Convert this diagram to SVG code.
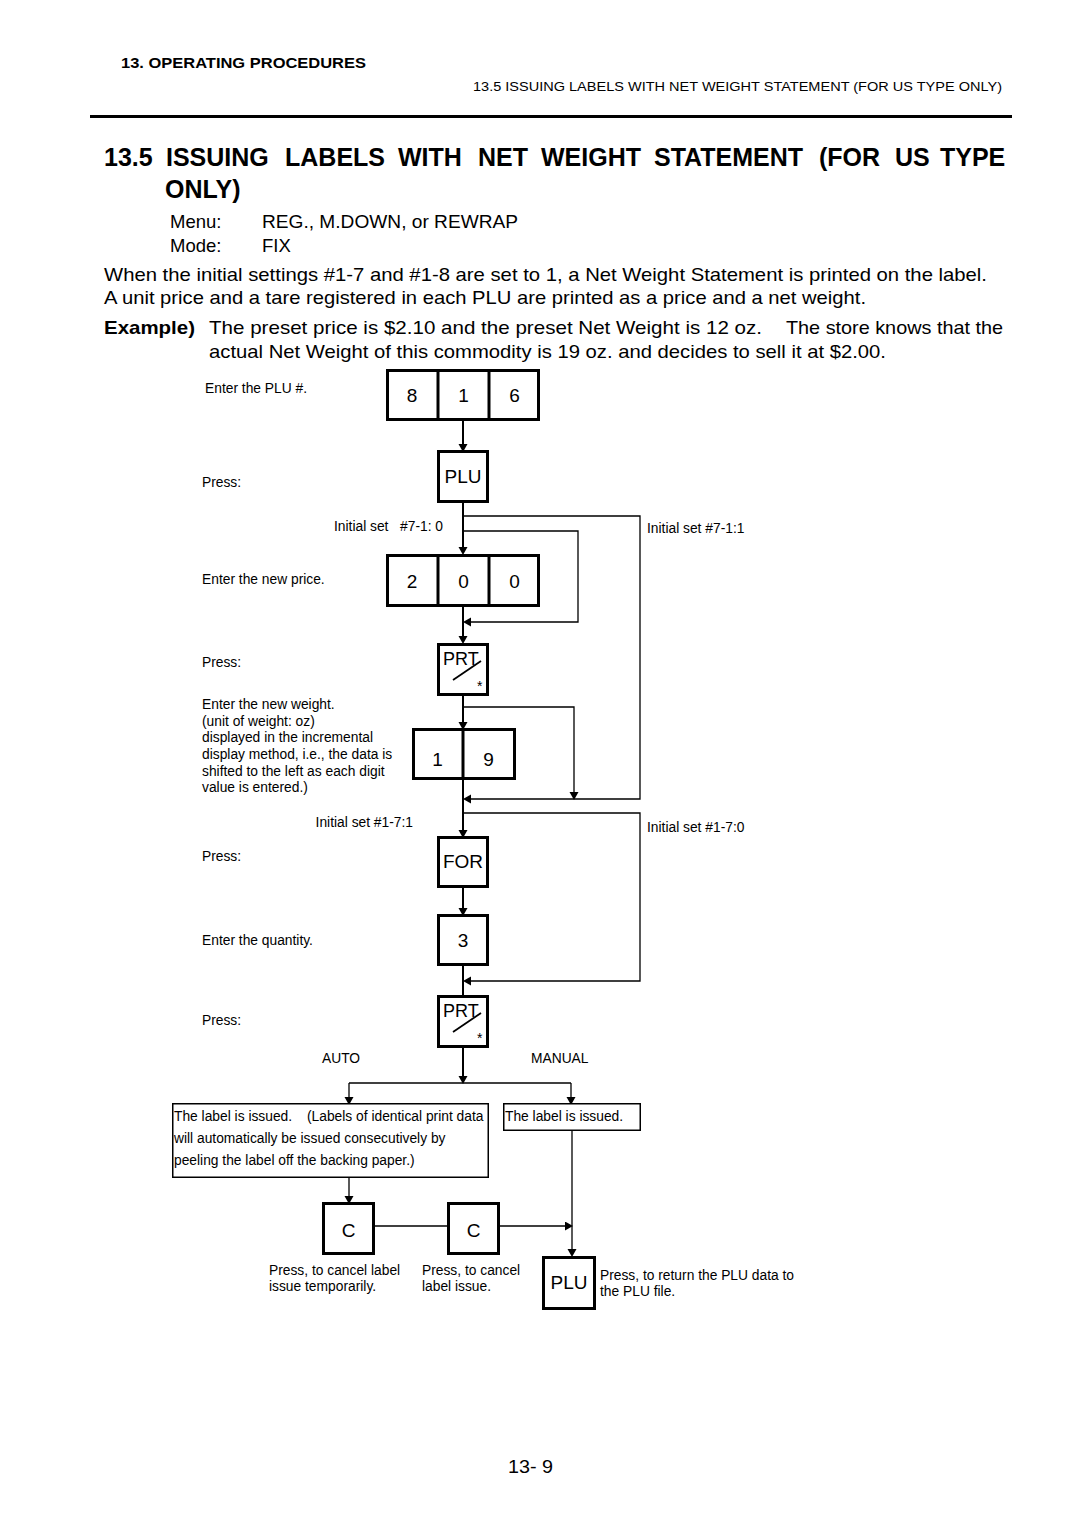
<svg xmlns="http://www.w3.org/2000/svg" width="1080" height="1528" viewBox="0 0 1080 1528">
<style>
text { font-family: "Liberation Sans", Arial, Helvetica, sans-serif; fill: #000; }
.hb { font-weight: bold; }
.body { font-size: 18.5px; }
.sm { font-size: 13.8px; }
.keyt { font-size: 19px; text-anchor: middle; }
.key { fill: #fff; stroke: #000; stroke-width: 3; }
.div { stroke: #000; stroke-width: 3; }
.lbl { fill: #fff; stroke: #000; stroke-width: 1.5; }
.main { fill: none; stroke: #000; stroke-width: 2; }
.br { fill: none; stroke: #000; stroke-width: 1.3; }
.arr { marker-end: url(#ah); }
.slash { stroke: #000; stroke-width: 1.8; }
</style>
<defs>
<marker id="ah" markerUnits="userSpaceOnUse" markerWidth="10" markerHeight="10" refX="3" refY="4.5" orient="auto">
<path d="M0,0 L8,4.5 L0,9 z" fill="#000"/>
</marker>
</defs>
<rect width="1080" height="1528" fill="#fff"/>

<!-- page header -->
<g id="header">
<text x="121" y="68" class="hb" font-size="15.5" textLength="245" lengthAdjust="spacingAndGlyphs">13. OPERATING PROCEDURES</text>
<text x="473" y="91" font-size="12.5" textLength="529" lengthAdjust="spacingAndGlyphs">13.5 ISSUING LABELS WITH NET WEIGHT STATEMENT (FOR US TYPE ONLY)</text>
<line x1="90" y1="116.5" x2="1012" y2="116.5" stroke="#000" stroke-width="3"/>
</g>

<!-- title and intro -->
<g id="title" class="hb" font-size="25">
<text y="166"><tspan x="104">13.5</tspan><tspan x="166">ISSUING</tspan><tspan x="285">LABELS</tspan><tspan x="398">WITH</tspan><tspan x="478">NET</tspan><tspan x="541">WEIGHT</tspan><tspan x="654">STATEMENT</tspan><tspan x="819">(FOR</tspan><tspan x="895">US</tspan><tspan x="940">TYPE</tspan></text>
<text x="165" y="198">ONLY)</text>
</g>
<g id="intro" class="body">
<text x="170" y="228">Menu:</text>
<text x="262" y="228" textLength="256" lengthAdjust="spacingAndGlyphs">REG., M.DOWN, or REWRAP</text>
<text x="170" y="252">Mode:</text>
<text x="262" y="252">FIX</text>
<text x="104" y="281" textLength="883" lengthAdjust="spacingAndGlyphs">When the initial settings #1-7 and #1-8 are set to 1, a Net Weight Statement is printed on the label.</text>
<text x="104" y="304" textLength="762" lengthAdjust="spacingAndGlyphs">A unit price and a tare registered in each PLU are printed as a price and a net weight.</text>
<text x="104" y="334" class="hb" textLength="91" lengthAdjust="spacingAndGlyphs">Example)</text>
<text x="209" y="334" textLength="553" lengthAdjust="spacingAndGlyphs">The preset price is $2.10 and the preset Net Weight is 12 oz.</text>
<text x="786" y="334" textLength="217" lengthAdjust="spacingAndGlyphs">The store knows that the</text>
<text x="209" y="358" textLength="677" lengthAdjust="spacingAndGlyphs">actual Net Weight of this commodity is 19 oz. and decides to sell it at $2.00.</text>
</g>

<!-- step descriptions -->
<g id="steps" class="sm">
<text x="205" y="393">Enter the PLU #.</text>
<text x="202" y="487">Press:</text>
<text x="202" y="584">Enter the new price.</text>
<text x="202" y="667">Press:</text>
<text x="202" y="709">Enter the new weight.</text>
<text x="202" y="726">(unit of weight: oz)</text>
<text x="202" y="742">displayed in the incremental</text>
<text x="202" y="759">display method, i.e., the data is</text>
<text x="202" y="776">shifted to the left as each digit</text>
<text x="202" y="792">value is entered.)</text>
<text x="202" y="861">Press:</text>
<text x="202" y="945">Enter the quantity.</text>
<text x="202" y="1025">Press:</text>
</g>

<!-- connectors -->
<g id="connectors">
<path class="main arr" d="M463,421 V447"/>
<path class="main arr" d="M463,503 V550"/>
<path class="main arr" d="M463,607 V639"/>
<path class="main arr" d="M463,696 V725"/>
<path class="main arr" d="M463,780 V833"/>
<path class="main arr" d="M463,888 V911"/>
<path class="main" d="M463,966 V995"/>
<path class="main arr" d="M463,1048 V1079"/>
<path class="br" d="M349,1083 H571"/>
<path class="br arr" d="M349,1083 V1100"/>
<path class="br arr" d="M571,1083 V1100"/>
<path class="br arr" d="M463,516 H640 V799 H468"/>
<path class="br arr" d="M463,531 H578 V622 H468"/>
<path class="br arr" d="M463,707 H574 V795"/>
<path class="br arr" d="M463,813 H640 V981 H468"/>
<path class="br arr" d="M349,1178 V1199"/>
<path class="br" d="M375,1226 H447"/>
<path class="br arr" d="M500,1226 H568"/>
<path class="br arr" d="M572,1131 V1252"/>
</g>

<!-- branch labels -->
<g id="branch-labels" class="sm">
<text x="334" y="531">Initial set</text>
<text x="443" y="531" text-anchor="end">#7-1: 0</text>
<text x="647" y="533">Initial set #7-1:1</text>
<text x="413" y="827" text-anchor="end">Initial set #1-7:1</text>
<text x="647" y="832">Initial set #1-7:0</text>
<text x="322" y="1063">AUTO</text>
<text x="531" y="1063">MANUAL</text>
</g>

<!-- key nodes -->
<g id="n816">
<rect class="key" x="387.5" y="370.5" width="151" height="49"/>
<line class="div" x1="438" y1="369" x2="438" y2="421"/>
<line class="div" x1="489" y1="369" x2="489" y2="421"/>
<text class="keyt" x="412" y="402">8</text>
<text class="keyt" x="463.5" y="402">1</text>
<text class="keyt" x="514.5" y="402">6</text>
</g>
<g id="nPLU1">
<rect class="key" x="438.5" y="451.5" width="49" height="50"/>
<text class="keyt" x="463" y="483">PLU</text>
</g>
<g id="n200">
<rect class="key" x="387.5" y="555.5" width="151" height="50"/>
<line class="div" x1="438" y1="554" x2="438" y2="607"/>
<line class="div" x1="489" y1="554" x2="489" y2="607"/>
<text class="keyt" x="412" y="588">2</text>
<text class="keyt" x="463.5" y="588">0</text>
<text class="keyt" x="514.5" y="588">0</text>
</g>
<g id="nPRT1">
<rect class="key" x="438.5" y="644.5" width="49" height="50"/>
<text x="443" y="665" font-size="18">PRT</text>
<line class="slash" x1="453" y1="680" x2="481" y2="661"/>
<text x="477" y="691" font-size="14">*</text>
</g>
<g id="n19">
<rect class="key" x="413.5" y="729.5" width="101" height="49"/>
<line class="div" x1="463" y1="728" x2="463" y2="780"/>
<text class="keyt" x="437.5" y="766">1</text>
<text class="keyt" x="488.5" y="766">9</text>
</g>
<g id="nFOR">
<rect class="key" x="438.5" y="837.5" width="49" height="49"/>
<text class="keyt" x="463" y="868">FOR</text>
</g>
<g id="n3">
<rect class="key" x="438.5" y="915.5" width="49" height="49"/>
<text class="keyt" x="463" y="947">3</text>
</g>
<g id="nPRT2">
<rect class="key" x="438.5" y="996.5" width="49" height="50"/>
<text x="443" y="1017" font-size="18">PRT</text>
<line class="slash" x1="453" y1="1032" x2="481" y2="1013"/>
<text x="477" y="1043" font-size="14">*</text>
</g>

<!-- label issue nodes -->
<g id="nAuto" class="sm">
<rect class="lbl" x="172.75" y="1103.75" width="315.5" height="73.5"/>
<text x="174" y="1121">The label is issued.</text>
<text x="307" y="1121">(Labels of identical print data</text>
<text x="174" y="1143">will automatically be issued consecutively by</text>
<text x="174" y="1165">peeling the label off the backing paper.)</text>
</g>
<g id="nManual" class="sm">
<rect class="lbl" x="503.75" y="1103.75" width="136.5" height="26.5"/>
<text x="505" y="1121">The label is issued.</text>
</g>
<g id="nC1">
<rect class="key" x="323.5" y="1203.5" width="50" height="50"/>
<text class="keyt" x="348.5" y="1237">C</text>
<text class="sm" x="269" y="1275">Press, to cancel label</text>
<text class="sm" x="269" y="1291">issue temporarily.</text>
</g>
<g id="nC2">
<rect class="key" x="448.5" y="1203.5" width="50" height="50"/>
<text class="keyt" x="473.5" y="1237">C</text>
<text class="sm" x="422" y="1275">Press, to cancel</text>
<text class="sm" x="422" y="1291">label issue.</text>
</g>
<g id="nPLU2">
<rect class="key" x="543.5" y="1257.5" width="51" height="51"/>
<text class="keyt" x="569" y="1289">PLU</text>
<text class="sm" x="600" y="1280">Press, to return the PLU data to</text>
<text class="sm" x="600" y="1296">the PLU file.</text>
</g>

<g id="footer">
<text x="508" y="1473" font-size="17.5" textLength="45" lengthAdjust="spacingAndGlyphs">13- 9</text>
</g>
</svg>
